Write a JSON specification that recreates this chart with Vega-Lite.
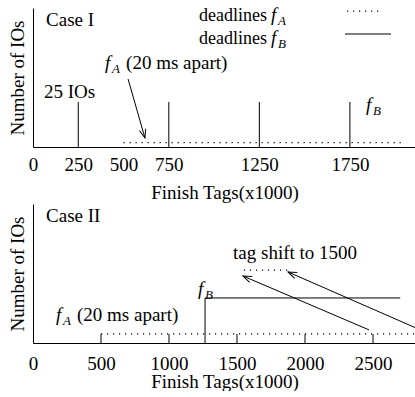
{
  "$schema": "https://vega.github.io/schema/vega-lite/v6.json",
  "background": "white",
  "padding": {"left": 8, "top": 6, "right": 0, "bottom": 0},
  "spacing": 2,
  "config": {
    "font": "Liberation Serif",
    "view": {"stroke": null},
    "axis": {"labelFont": "Liberation Serif", "titleFont": "Liberation Serif", "labelFontSize": 19, "titleFontSize": 19, "titleFontWeight": "normal", "labelColor": "black", "titleColor": "black", "domainColor": "black", "domainWidth": 1, "grid": false, "ticks": false, "labelFlush": false, "labelOverlap": false, "format": "d"}
  },
  "datasets": {
    "c1_solid": [
      {"what": "deadline fB", "x": 250, "x2": 250, "y": 0, "y2": 32.4},
      {"what": "deadline fB", "x": 750, "x2": 750, "y": 0, "y2": 32.4},
      {"what": "deadline fB", "x": 1250, "x2": 1250, "y": 0, "y2": 32.4},
      {"what": "deadline fB", "x": 1750, "x2": 1750, "y": 0, "y2": 32.4},
      {"what": "legend fB", "x": 1723, "x2": 1977, "y": 81.3, "y2": 81.3},
      {"what": "arrow", "x": 525, "x2": 618, "y": 48.9, "y2": 6.5}
    ],
    "c1_dotted": [
      {"what": "deadlines fA", "x": 500, "x2": 2050, "y": 3.1, "y2": 3.1},
      {"what": "legend fA", "x": 1734, "x2": 1933, "y": 97.8, "y2": 97.8}
    ],
    "c1_heads": [{"what": "arrow head", "x": 618, "y": 6.5}],
    "c1_text": [
      {"x": 72, "y": 87.1, "text": "Case I"},
      {"x": 61, "y": 35.3, "text": "25 IOs"}
    ],
    "c1_ftext": [
      {"x": 1314, "y": 90.6, "pre": "deadlines", "sub": "A", "post": ""},
      {"x": 1314, "y": 74.1, "pre": "deadlines", "sub": "B", "post": ""},
      {"x": 398, "y": 56.1, "pre": "", "sub": "A", "post": "(20 ms apart)"},
      {"x": 1839, "y": 25.9, "pre": "", "sub": "B", "post": ""}
    ],
    "c2_solid": [
      {"what": "deadline fB", "x": 1265, "x2": 1265, "y": 0, "y2": 32.4},
      {"what": "deadline fB", "x": 1265, "x2": 2700, "y": 32.4, "y2": 32.4},
      {"what": "fA mark", "x": 500, "x2": 500, "y": 0, "y2": 6.5},
      {"what": "fA mark", "x": 1000, "x2": 1000, "y": 0, "y2": 6.5},
      {"what": "fA mark", "x": 1500, "x2": 1500, "y": 0, "y2": 6.5},
      {"what": "fA mark", "x": 2000, "x2": 2000, "y": 0, "y2": 6.5},
      {"what": "fA mark", "x": 2500, "x2": 2500, "y": 0, "y2": 6.5},
      {"what": "arrow", "x": 2471, "x2": 1544, "y": 9.4, "y2": 48.2},
      {"what": "arrow", "x": 2816, "x2": 1875, "y": 10.8, "y2": 51.1}
    ],
    "c2_dotted": [
      {"what": "deadlines fA", "x": 500, "x2": 2816, "y": 6.5, "y2": 6.5},
      {"what": "shifted tags", "x": 1551, "x2": 1875, "y": 52.5, "y2": 52.5}
    ],
    "c2_heads": [
      {"what": "arrow head", "x": 1544, "y": 48.2},
      {"what": "arrow head", "x": 1875, "y": 51.1}
    ],
    "c2_text": [
      {"x": 96, "y": 87.1, "text": "Case II"},
      {"x": 1471, "y": 60.4, "text": "tag shift to 1500"}
    ],
    "c2_ftext": [
      {"x": 169, "y": 15.8, "pre": "", "sub": "A", "post": "(20 ms apart)"},
      {"x": 1213, "y": 34.5, "pre": "", "sub": "B", "post": ""}
    ]
  },
  "vconcat": [
    {
      "width": 383,
      "height": 139,
      "encoding": {
        "x": {"field": "x", "type": "quantitative", "scale": {"domain": [0, 2115], "nice": false, "zero": false},
              "axis": {"title": "Finish Tags(x1000)", "values": [0, 250, 500, 750, 1250, 1750], "labelPadding": 8, "titlePadding": 9}},
        "y": {"field": "y", "type": "quantitative", "scale": {"domain": [0, 100], "nice": false},
              "axis": {"title": "Number of IOs", "labels": false, "titlePadding": 6}}
      },
      "layer": [
        {"data": {"name": "c1_solid"}, "mark": {"type": "rule", "color": "black", "strokeWidth": 1},
         "encoding": {"x2": {"field": "x2"}, "y2": {"field": "y2"}}},
        {"data": {"name": "c1_dotted"}, "mark": {"type": "rule", "color": "black", "strokeWidth": 1.2, "strokeDash": [1.2, 4.8]},
         "encoding": {"x2": {"field": "x2"}, "y2": {"field": "y2"}}},
        {"data": {"name": "c1_heads"}, "mark": {"type": "point", "shape": "M -1 -0.38 L 0 0 L -1 0.38", "filled": false, "stroke": "black", "strokeWidth": 1, "size": 300, "angle": 73.9, "opacity": 1}},
        {"data": {"name": "c1_text"}, "mark": {"type": "text", "font": "Liberation Serif", "fontSize": 19, "color": "black", "align": "left", "baseline": "alphabetic"}, "encoding": {"text": {"field": "text"}}},
        {"data": {"name": "c1_ftext"}, "mark": {"type": "text", "font": "Liberation Serif", "fontSize": 18, "color": "black", "align": "right", "baseline": "alphabetic", "dx": -4}, "encoding": {"text": {"field": "pre"}}},
        {"data": {"name": "c1_ftext"}, "mark": {"type": "text", "font": "Liberation Serif", "fontSize": 19, "color": "black", "align": "left", "baseline": "alphabetic", "fontStyle": "italic"}, "encoding": {"text": {"value": "f"}}},
        {"data": {"name": "c1_ftext"}, "mark": {"type": "text", "font": "Liberation Serif", "fontSize": 13, "color": "black", "align": "left", "baseline": "alphabetic", "fontStyle": "italic", "dx": 7, "dy": 4}, "encoding": {"text": {"field": "sub"}}},
        {"data": {"name": "c1_ftext"}, "mark": {"type": "text", "font": "Liberation Serif", "fontSize": 19, "color": "black", "align": "left", "baseline": "alphabetic", "dx": 21}, "encoding": {"text": {"field": "post"}}}
      ]
    },
    {
      "width": 383,
      "height": 139,
      "encoding": {
        "x": {"field": "x", "type": "quantitative", "scale": {"domain": [0, 2816], "nice": false, "zero": false},
              "axis": {"title": "Finish Tags(x1000)", "values": [0, 500, 1000, 1500, 2000, 2500], "labelPadding": 11, "titlePadding": -1}},
        "y": {"field": "y", "type": "quantitative", "scale": {"domain": [0, 100], "nice": false},
              "axis": {"title": "Number of IOs", "labels": false, "titlePadding": 6}}
      },
      "layer": [
        {"data": {"name": "c2_solid"}, "mark": {"type": "rule", "color": "black", "strokeWidth": 1},
         "encoding": {"x2": {"field": "x2"}, "y2": {"field": "y2"}}},
        {"data": {"name": "c2_dotted"}, "mark": {"type": "rule", "color": "black", "strokeWidth": 1.2, "strokeDash": [1.2, 4.8]},
         "encoding": {"x2": {"field": "x2"}, "y2": {"field": "y2"}}},
        {"data": {"name": "c2_heads"}, "mark": {"type": "point", "shape": "M -1 -0.38 L 0 0 L -1 0.38", "filled": false, "stroke": "black", "strokeWidth": 1, "size": 300, "angle": 203.4, "opacity": 1}},
        {"data": {"name": "c2_text"}, "mark": {"type": "text", "font": "Liberation Serif", "fontSize": 19, "color": "black", "align": "left", "baseline": "alphabetic"}, "encoding": {"text": {"field": "text"}}},
        {"data": {"name": "c2_ftext"}, "mark": {"type": "text", "font": "Liberation Serif", "fontSize": 18, "color": "black", "align": "right", "baseline": "alphabetic", "dx": -4}, "encoding": {"text": {"field": "pre"}}},
        {"data": {"name": "c2_ftext"}, "mark": {"type": "text", "font": "Liberation Serif", "fontSize": 19, "color": "black", "align": "left", "baseline": "alphabetic", "fontStyle": "italic"}, "encoding": {"text": {"value": "f"}}},
        {"data": {"name": "c2_ftext"}, "mark": {"type": "text", "font": "Liberation Serif", "fontSize": 13, "color": "black", "align": "left", "baseline": "alphabetic", "fontStyle": "italic", "dx": 7, "dy": 4}, "encoding": {"text": {"field": "sub"}}},
        {"data": {"name": "c2_ftext"}, "mark": {"type": "text", "font": "Liberation Serif", "fontSize": 19, "color": "black", "align": "left", "baseline": "alphabetic", "dx": 21}, "encoding": {"text": {"field": "post"}}}
      ]
    }
  ]
}
